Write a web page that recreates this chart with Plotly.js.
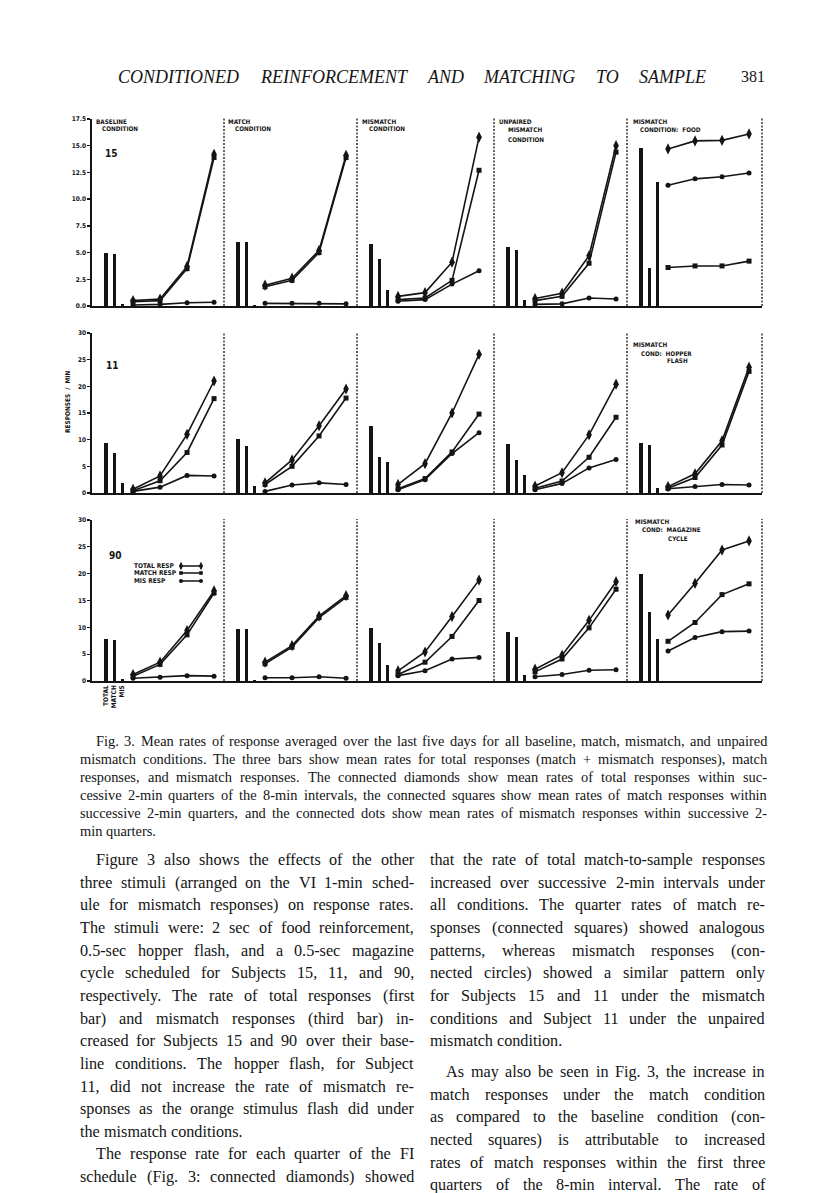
<!DOCTYPE html>
<html><head><meta charset="utf-8">
<script src="https://cdn.plot.ly/plotly-3.0.1.min.js"></script>
<style>html,body{margin:0;padding:0;background:#fff}#chart{width:816px;height:1193px}</style>
</head><body><div id="chart"></div>
<script>
// ---------------- DATA ----------------
const barLabels = ["TOTAL", "MATCH", "MIS"];
const barSlots  = [0.0, 0.3, 0.6];          // category slots of the three bars
const quarters  = [1, 2, 3, 4];             // successive 2-min quarters
const subjects  = ["15", "11", "90"];
const rowMax    = [17.5, 30, 30];
const ticks15   = [0, 2.5, 5, 7.5, 10, 12.5, 15, 17.5];
const tickText15 = ["0.0", "2.5", "5.0", "7.5", "10.0", "12.5", "15.0", "17.5"];
const ticks30   = [0, 5, 10, 15, 20, 25, 30];
const tickText30 = ["0", "5", "10", "15", "20", "25", "30"];

// Subject 15 (panels: baseline, match, mismatch, unpaired mismatch, mismatch: food)
const bars15  = [[5.0, 4.9, 0.2], [6.0, 6.0, 0.1], [5.8, 4.4, 1.5], [5.5, 5.2, 0.55], [14.8, 3.6, 11.6]];
const total15 = [[0.5, 0.65, 3.7, 14.2], [1.95, 2.6, 5.2, 14.1], [0.9, 1.25, 4.1, 15.8], [0.7, 1.2, 4.7, 15.0], [14.7, 15.45, 15.5, 16.1]];
const match15 = [[0.4, 0.5, 3.5, 13.9], [1.8, 2.4, 5.0, 13.9], [0.6, 0.75, 2.4, 12.7], [0.5, 0.9, 4.0, 14.4], [3.6, 3.75, 3.75, 4.2]];
const mis15   = [[0.1, 0.15, 0.3, 0.35], [0.25, 0.25, 0.25, 0.2], [0.45, 0.6, 2.05, 3.3], [0.15, 0.2, 0.75, 0.65], [11.3, 11.9, 12.1, 12.45]];

// Subject 11 (last panel: mismatch cond: hopper flash)
const bars11  = [[9.3, 7.5, 1.9], [10.1, 8.9, 1.4], [12.5, 6.8, 5.9], [9.2, 6.2, 3.4], [9.4, 9.0, 0.9]];
const total11 = [[0.7, 3.2, 11.0, 21.0], [1.9, 6.2, 12.6, 19.5], [1.6, 5.5, 15.0, 26.0], [1.3, 3.8, 10.9, 20.4], [1.2, 3.6, 9.8, 23.6]];
const match11 = [[0.4, 2.3, 7.6, 17.7], [1.6, 5.0, 10.7, 17.8], [0.8, 2.7, 7.7, 14.8], [0.9, 2.25, 6.7, 14.2], [0.9, 2.9, 9.0, 22.8]];
const mis11   = [[0.3, 1.1, 3.3, 3.2], [0.3, 1.5, 1.9, 1.6], [0.6, 2.5, 7.4, 11.3], [0.6, 1.8, 4.7, 6.3], [0.8, 1.2, 1.6, 1.5]];

// Subject 90 (last panel: mismatch cond: magazine cycle)
const bars90  = [[7.8, 7.6, 0.3], [9.7, 9.6, 0.2], [9.8, 7.1, 2.9], [9.2, 8.2, 1.1], [20.0, 12.9, 7.8]];
const total90 = [[1.2, 3.5, 9.4, 16.8], [3.5, 6.6, 12.1, 15.9], [1.9, 5.4, 12.0, 18.8], [2.2, 4.8, 11.3, 18.5], [12.3, 18.2, 24.4, 26.1]];
const match90 = [[0.9, 3.1, 8.6, 16.4], [3.2, 6.3, 11.8, 15.6], [1.2, 3.5, 8.3, 15.0], [1.7, 4.1, 9.9, 17.1], [7.4, 10.9, 16.1, 18.1]];
const mis90   = [[0.5, 0.7, 1.0, 0.9], [0.6, 0.6, 0.8, 0.5], [1.0, 1.9, 4.1, 4.4], [0.8, 1.2, 2.0, 2.1], [5.6, 8.1, 9.2, 9.3]];

const rowsData = [
  {bars: bars15, total: total15, match: match15, mis: mis15},
  {bars: bars11, total: total11, match: match11, mis: mis11},
  {bars: bars90, total: total90, match: match90, mis: mis90}
];

// ---------------- TEXT ----------------
const headerText = "CONDITIONED REINFORCEMENT AND MATCHING TO SAMPLE";
const pageNumber = "381";
const captionLines = [
  "Fig. 3. Mean rates of response averaged over the last five days for all baseline, match, mismatch, and unpaired",
  "mismatch conditions. The three bars show mean rates for total responses (match + mismatch responses), match",
  "responses, and mismatch responses. The connected diamonds show mean rates of total responses within suc-",
  "cessive 2-min quarters of the 8-min intervals, the connected squares show mean rates of match responses within",
  "successive 2-min quarters, and the connected dots show mean rates of mismatch responses within successive 2-",
  "min quarters."
];
const leftColumn = [
  "Figure 3 also shows the effects of the other",
  "three stimuli (arranged on the VI 1-min sched-",
  "ule for mismatch responses) on response rates.",
  "The stimuli were: 2 sec of food reinforcement,",
  "0.5-sec hopper flash, and a 0.5-sec magazine",
  "cycle scheduled for Subjects 15, 11, and 90,",
  "respectively. The rate of total responses (first",
  "bar) and mismatch responses (third bar) in-",
  "creased for Subjects 15 and 90 over their base-",
  "line conditions. The hopper flash, for Subject",
  "11, did not increase the rate of mismatch re-",
  "sponses as the orange stimulus flash did under",
  "the mismatch conditions.",
  "The response rate for each quarter of the FI",
  "schedule (Fig. 3: connected diamonds) showed"
];
const rightColumn = [
  "that the rate of total match-to-sample responses",
  "increased over successive 2-min intervals under",
  "all conditions. The quarter rates of match re-",
  "sponses (connected squares) showed analogous",
  "patterns, whereas mismatch responses (con-",
  "nected circles) showed a similar pattern only",
  "for Subjects 15 and 11 under the mismatch",
  "conditions and Subject 11 under the unpaired",
  "mismatch condition.",
  "As may also be seen in Fig. 3, the increase in",
  "match responses under the match condition",
  "as compared to the baseline condition (con-",
  "nected squares) is attributable to increased",
  "rates of match responses within the first three",
  "quarters of the 8-min interval. The rate of"
];

// ---------------- LAYOUT HELPERS ----------------
const W = 816, H = 1193;
const INK = "#141414";
const FIGF = "DejaVu Sans Condensed, Liberation Sans Narrow, DejaVu Sans, sans-serif";
const SERIF = "Liberation Serif";
const fx = v => v / W, fy = v => 1 - v / H;
const B = [92, 224, 357, 494, 627, 762];           // panel edges (px)
const rowsPx = [[119, 306], [333, 493], [520, 681]]; // row top / bottom (px)
const PXU = 27, X0 = -0.52;                        // px per x-unit, x at panel left edge
const axId = i => (i === 1 ? "" : String(i));

const traces = [];
const layout = {
  width: W, height: H, margin: {l: 0, r: 0, t: 0, b: 0},
  paper_bgcolor: "#fff", plot_bgcolor: "rgba(0,0,0,0)", showlegend: false,
  font: {family: FIGF, color: INK}, annotations: [], shapes: [], bargap: 0
};

for (let r = 0; r < 3; r++) {
  const yk = "yaxis" + axId(r + 1);
  layout[yk] = {
    domain: [fy(rowsPx[r][1]), fy(rowsPx[r][0])], range: [0, rowMax[r]],
    anchor: "x" + axId(r * 5 + 1),
    tickvals: r === 0 ? ticks15 : ticks30, ticktext: r === 0 ? tickText15 : tickText30,
    ticks: "outside", ticklen: 3, tickwidth: 1.3, tickcolor: INK,
    showline: true, linecolor: INK, linewidth: 1.6, showgrid: false, zeroline: false,
    tickfont: {family: FIGF, size: 6.5, weight: "bold", color: INK}, fixedrange: true
  };
  const d = rowsData[r];
  for (let p = 0; p < 5; p++) {
    const i = r * 5 + p + 1;
    layout["xaxis" + axId(i)] = {
      domain: [fx(B[p]), fx(B[p + 1])], range: [X0, X0 + (B[p + 1] - B[p]) / PXU],
      anchor: "y" + axId(r + 1), showline: true, linecolor: INK, linewidth: 1.6,
      showgrid: false, zeroline: false, ticks: "", fixedrange: true,
      showticklabels: r === 2 && p === 0, tickvals: barSlots, ticktext: barLabels,
      tickangle: -90, tickfont: {family: FIGF, size: 6.5, weight: "bold", color: INK}
    };
    const xa = "x" + axId(i), ya = "y" + axId(r + 1);
    traces.push({type: "bar", x: barSlots, y: d.bars[p], xaxis: xa, yaxis: ya,
      width: 0.12, marker: {color: INK, line: {width: 0}}, hoverinfo: "skip"});
    const series = [
      [d.mis[p], "circle", 5],
      [d.match[p], "square", 5],
      [d.total[p], "diamond-tall", 8]
    ];
    series.forEach(([vals, sym, sz]) => traces.push({
      type: "scatter", mode: "lines+markers", x: quarters, y: vals, xaxis: xa, yaxis: ya,
      line: {color: INK, width: 1.6}, marker: {symbol: sym, size: sz, color: INK},
      cliponaxis: false, hoverinfo: "skip"
    }));
    // dashed panel separator on right edge
    layout.shapes.push({type: "line", xref: "paper", yref: "paper",
      x0: fx(B[p + 1]), x1: fx(B[p + 1]), y0: fy(rowsPx[r][1]), y1: fy(rowsPx[r][0] - 1),
      line: {color: INK, width: 1.3, dash: "2px,1.5px"}});
  }
}

function ann(text, x, y, opts) {
  layout.annotations.push(Object.assign({
    text: text, x: fx(x), y: fy(y), xref: "paper", yref: "paper", showarrow: false,
    xanchor: "left", yanchor: "middle", borderpad: 0,
    font: {family: FIGF, size: 6.3, weight: "bold", color: INK}
  }, opts || {}));
}
// panel titles
ann("BASELINE", 95, 121); ann("CONDITION", 101, 129);
ann("MATCH", 227, 121); ann("CONDITION", 234, 129);
ann("MISMATCH", 361, 121); ann("CONDITION", 368, 129);
ann("UNPAIRED", 498, 121); ann("MISMATCH", 507, 130); ann("CONDITION", 507, 139);
ann("MISMATCH", 632, 121); ann("CONDITION:  FOOD", 639, 130);
ann("MISMATCH", 632, 344); ann("COND:  HOPPER", 640, 353); ann("FLASH", 666, 361);
ann("MISMATCH", 634, 521); ann("COND:  MAGAZINE", 641, 530); ann("CYCLE", 667, 538);
// subject numbers
const subjPos = [[104, 153], [105, 365], [108, 555]];
subjects.forEach((s, k) => ann(s, subjPos[k][0], subjPos[k][1], {font: {family: FIGF, size: 10, weight: "bold", color: INK}}));
// y title
ann("RESPONSES  /  MIN", 68, 402, {textangle: -90, xanchor: "center", font: {family: FIGF, size: 6.5, weight: "bold", color: INK}});

// legend key (row 3, panel 1)
const keyNames = ["TOTAL RESP", "MATCH RESP", "MIS RESP"];
const keyY = [566, 573, 581];
keyNames.forEach((n, k) => {
  ann(n, 133, keyY[k], {font: {family: FIGF, size: 6.5, weight: "bold", color: INK}});
  const y = keyY[k], xa = 181, xb = 201;
  layout.shapes.push({type: "line", xref: "paper", yref: "paper", x0: fx(xa), x1: fx(xb), y0: fy(y), y1: fy(y), line: {color: INK, width: 1.5}});
  [xa, xb].forEach(x => {
    if (k === 0) {
      layout.shapes.push({type: "path", xref: "paper", yref: "paper", fillcolor: INK, line: {color: INK, width: 0.8},
        path: `M${fx(x)},${fy(y - 3.5)} L${fx(x + 1.6)},${fy(y)} L${fx(x)},${fy(y + 3.5)} L${fx(x - 1.6)},${fy(y)} Z`});
    } else if (k === 1) {
      layout.shapes.push({type: "rect", xref: "paper", yref: "paper", fillcolor: INK, line: {width: 0},
        x0: fx(x - 1.8), x1: fx(x + 1.8), y0: fy(y + 1.8), y1: fy(y - 1.8)});
    } else {
      layout.shapes.push({type: "circle", xref: "paper", yref: "paper", fillcolor: INK, line: {width: 0},
        x0: fx(x - 2), x1: fx(x + 2), y0: fy(y + 2), y1: fy(y - 2)});
    }
  });
});

// ---------------- JUSTIFIED TEXT ----------------
const cv = document.createElement("canvas").getContext("2d");
function measure(t, f) {
  cv.font = `${f.style || "normal"} normal ${f.size}px "${f.family}"`;
  return cv.measureText(t).width;
}
function placeLine(text, x0, x1, y, f, justify) {
  const words = text.split(" ");
  const ws = words.map(w => measure(w, f));
  const tot = ws.reduce((a, b) => a + b, 0);
  let gap = measure(" ", f);
  if (justify && words.length > 1) gap = Math.max(gap * 0.6, (x1 - x0 - tot) / (words.length - 1));
  let x = x0;
  words.forEach((w, i) => {
    layout.annotations.push({text: w, x: fx(x), y: fy(y), xref: "paper", yref: "paper",
      showarrow: false, xanchor: "left", yanchor: "middle", borderpad: 0,
      font: {family: f.family + ", serif", size: f.size, style: f.style || "normal", color: INK}});
    x += ws[i] + gap;
  });
}
const headF = {family: SERIF, size: 18, style: "italic"};
placeLine(headerText, 117, 705, 77, headF, true);
placeLine(pageNumber, 740, 766, 77, {family: SERIF, size: 16}, false);

const capF = {family: SERIF, size: 14.4};
captionLines.forEach((t, i) => placeLine(t, i === 0 ? 95 : 79, 766, 741 + i * 18, capF, i < captionLines.length - 1));

const bodyF = {family: SERIF, size: 16.2};
leftColumn.forEach((t, i) => {
  const indent = (i === 0 || i === 13) ? 95 : 79;
  placeLine(t, indent, 413, 860 + i * 22.65, bodyF, i !== 12);
});
rightColumn.forEach((t, i) => {
  const y = i < 9 ? 860 + i * 22.65 : 1072 + (i - 9) * 22.65;
  const indent = i === 9 ? 445 : 429;
  placeLine(t, indent, 764, y, bodyF, i !== 8);
});

Plotly.newPlot("chart", traces, layout, {displayModeBar: false, staticPlot: true});
</script>
</body></html>
